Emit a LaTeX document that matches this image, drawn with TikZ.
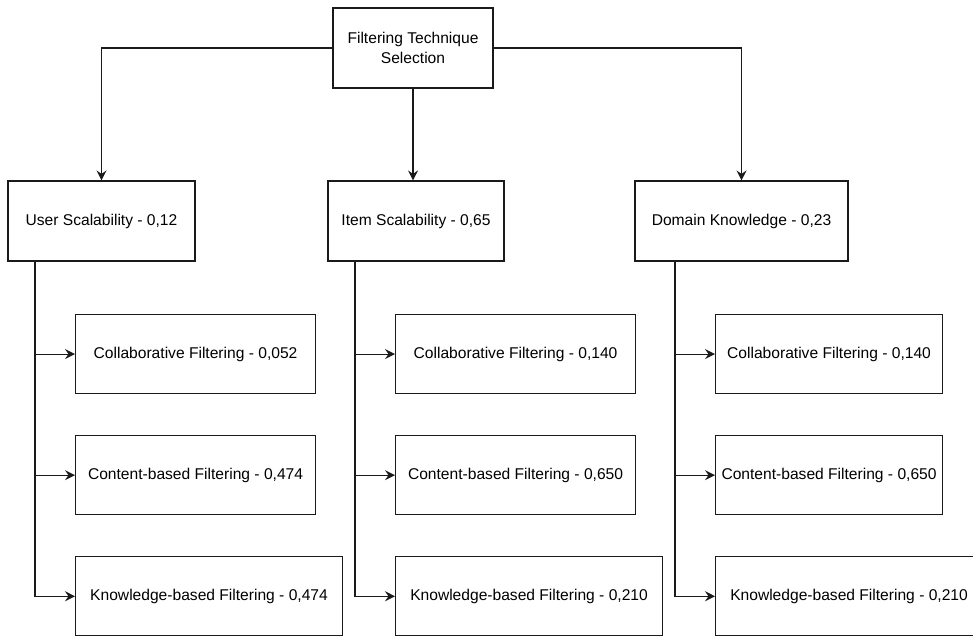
\documentclass[tikz,border=0pt]{standalone}
\usepackage{fontspec}
\setmainfont{Liberation Sans}
\usepackage{xcolor}
\usepackage{tikz}
\usetikzlibrary{arrows.meta,positioning}
\definecolor{linegray}{HTML}{1A1A1A}

\tikzset{
  critbox/.style={draw=linegray,line width=1.1pt,minimum height=80pt,
                  inner sep=0pt,align=center,text=black},
  altbox/.style={critbox,minimum width=240pt,minimum height=79pt},
  link/.style={draw=linegray,line width=1.1pt,
               -{Stealth[length=10pt,width=10pt,inset=3.5pt]}}
}

\begin{document}
\begin{tikzpicture}[x=1pt,y=-1pt,font=\fontsize{15.6}{20}\selectfont]
        \useasboundingbox (0,0) rectangle (973,635);
        % goal
        \node[critbox,minimum width=160pt] (goal) at (413,48)
              {Filtering Technique\\Selection};
        % criteria
        \node[critbox,minimum width=187pt] (user) at (101.5,221)
              {User Scalability - 0,12};
        \node[critbox,minimum width=176pt] (item) at (416,221)
              {Item Scalability - 0,65};
        \node[critbox,minimum width=213pt] (domain) at (741.5,221)
              {Domain Knowledge - 0,23};
        % alternatives under user scalability
        \node[altbox,anchor=north west] (ucf) at (75,314)
              {Collaborative Filtering - 0,052};
        \node[altbox,below=41pt of ucf.south west,anchor=north west] (ucb)
              {Content-based Filtering - 0,474};
        \node[altbox,minimum width=267pt,below=41pt of ucb.south west,
              anchor=north west] (ukb)
              {Knowledge-based Filtering - 0,474};
        % alternatives under item scalability
        \node[altbox,anchor=north west] (icf) at (395,314)
              {Collaborative Filtering - 0,140};
        \node[altbox,below=41pt of icf.south west,anchor=north west] (icb)
              {Content-based Filtering - 0,650};
        \node[altbox,minimum width=267pt,below=41pt of icb.south west,
              anchor=north west] (ikb)
              {Knowledge-based Filtering - 0,210};
        % alternatives under domain knowledge
        \node[altbox,minimum width=227pt,anchor=north west] (dcf) at (715,314)
              {Collaborative Filtering - 0,140};
        \node[altbox,minimum width=227pt,below=41pt of dcf.south west,
              anchor=north west] (dcb)
              {Content-based Filtering - 0,650};
        \node[altbox,minimum width=267pt,below=41pt of dcb.south west,
              anchor=north west] (dkb)
              {Knowledge-based Filtering - 0,210};
        % goal to criteria
        \draw[link] (goal.west) -| (user.north);
        \draw[link] (goal.south) -- (goal.south |- item.north);
        \draw[link] (goal.east) -| (domain.north);
        % criteria to alternatives
        \coordinate (utrunk) at (35,261);
        \coordinate (itrunk) at (355,261);
        \coordinate (dtrunk) at (675,261);
        \foreach \c/\t in {ucf/utrunk,ucb/utrunk,ukb/utrunk,
                           icf/itrunk,icb/itrunk,ikb/itrunk,
                           dcf/dtrunk,dcb/dtrunk,dkb/dtrunk}
          \draw[link] (\t) |- (\c.west);
      \end{tikzpicture}
\end{document}
